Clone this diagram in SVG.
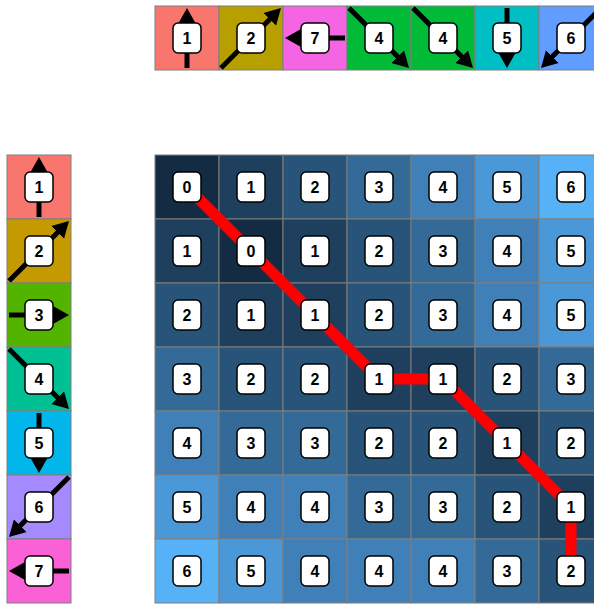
<svg xmlns="http://www.w3.org/2000/svg" width="594" height="604" viewBox="0 0 594 604">
<style>
.cell{stroke:#7f7f7f;stroke-width:1}
.box{fill:#fff;stroke:#000;stroke-width:1.5}
.lbl{font-family:"Liberation Sans",Arial,sans-serif;font-weight:bold;font-size:16px;fill:#000;text-anchor:middle}
.arr{stroke:#000;stroke-width:5;fill:none;marker-end:url(#ah)}
.path{stroke:#ff0000;stroke-width:11;fill:none;stroke-linejoin:round}
.v0{fill:#132B43}.v1{fill:#1E3F5E}.v2{fill:#28547A}.v3{fill:#336A98}.v4{fill:#3E80B7}.v5{fill:#4A98D7}.v6{fill:#56B1F7}
</style>
<defs>
<marker id="ah" markerUnits="userSpaceOnUse" markerWidth="18" markerHeight="20" viewBox="0 -10 18 20" refX="2" refY="0" orient="auto">
<path d="M0,-9 L16,0 L0,9 Z" fill="#000"/>
</marker>
</defs>
<rect width="594" height="604" fill="#fff"/>

<!-- top sequence -->
<g id="top">
<g id="t0"><rect class="cell" x="155" y="6" width="64" height="64" fill="#F8766D"/><line class="arr" x1="187" y1="68" x2="187" y2="22"/><rect class="box" x="173" y="23" width="28" height="30" rx="5"/><text class="lbl" x="187" y="44">1</text></g>
<g id="t1"><rect class="cell" x="219" y="6" width="64" height="64" fill="#B79F00"/><line class="arr" x1="221" y1="68" x2="271.1" y2="17.9"/><rect class="box" x="237" y="23" width="28" height="30" rx="5"/><text class="lbl" x="251" y="44">2</text></g>
<g id="t2"><rect class="cell" x="283" y="6" width="64" height="64" fill="#F564E3"/><line class="arr" x1="345" y1="38" x2="299" y2="38"/><rect class="box" x="301" y="23" width="28" height="30" rx="5"/><text class="lbl" x="315" y="44">7</text></g>
<g id="t3"><rect class="cell" x="347" y="6" width="64" height="64" fill="#00BA38"/><line class="arr" x1="349" y1="8" x2="399.1" y2="58.1"/><rect class="box" x="365" y="23" width="28" height="30" rx="5"/><text class="lbl" x="379" y="44">4</text></g>
<g id="t4"><rect class="cell" x="411" y="6" width="64" height="64" fill="#00BA38"/><line class="arr" x1="413" y1="8" x2="463.1" y2="58.1"/><rect class="box" x="429" y="23" width="28" height="30" rx="5"/><text class="lbl" x="443" y="44">4</text></g>
<g id="t5"><rect class="cell" x="475" y="6" width="64" height="64" fill="#00BFC4"/><line class="arr" x1="507" y1="8" x2="507" y2="54"/><rect class="box" x="493" y="23" width="28" height="30" rx="5"/><text class="lbl" x="507" y="44">5</text></g>
<g id="t6"><rect class="cell" x="539" y="6" width="64" height="64" fill="#619CFF"/><line class="arr" x1="601" y1="8" x2="550.9" y2="58.1"/><rect class="box" x="557" y="23" width="28" height="30" rx="5"/><text class="lbl" x="571" y="44">6</text></g>
</g>

<!-- left sequence -->
<g id="left">
<g id="l0"><rect class="cell" x="7" y="155" width="64" height="64" fill="#F8766D"/><line class="arr" x1="39" y1="217" x2="39" y2="171"/><rect class="box" x="25" y="172" width="28" height="30" rx="5"/><text class="lbl" x="39" y="193">1</text></g>
<g id="l1"><rect class="cell" x="7" y="219" width="64" height="64" fill="#C49A00"/><line class="arr" x1="9" y1="281" x2="59.1" y2="230.9"/><rect class="box" x="25" y="236" width="28" height="30" rx="5"/><text class="lbl" x="39" y="257">2</text></g>
<g id="l2"><rect class="cell" x="7" y="283" width="64" height="64" fill="#53B400"/><line class="arr" x1="9" y1="315" x2="55" y2="315"/><rect class="box" x="25" y="300" width="28" height="30" rx="5"/><text class="lbl" x="39" y="321">3</text></g>
<g id="l3"><rect class="cell" x="7" y="347" width="64" height="64" fill="#00C094"/><line class="arr" x1="9" y1="349" x2="59.1" y2="399.1"/><rect class="box" x="25" y="364" width="28" height="30" rx="5"/><text class="lbl" x="39" y="385">4</text></g>
<g id="l4"><rect class="cell" x="7" y="411" width="64" height="64" fill="#00B6EB"/><line class="arr" x1="39" y1="413" x2="39" y2="459"/><rect class="box" x="25" y="428" width="28" height="30" rx="5"/><text class="lbl" x="39" y="449">5</text></g>
<g id="l5"><rect class="cell" x="7" y="475" width="64" height="64" fill="#A58AFF"/><line class="arr" x1="69" y1="477" x2="18.9" y2="527.1"/><rect class="box" x="25" y="492" width="28" height="30" rx="5"/><text class="lbl" x="39" y="513">6</text></g>
<g id="l6"><rect class="cell" x="7" y="539" width="64" height="64" fill="#FB61D7"/><line class="arr" x1="69" y1="571" x2="23" y2="571"/><rect class="box" x="25" y="556" width="28" height="30" rx="5"/><text class="lbl" x="39" y="577">7</text></g>
</g>

<!-- grid backgrounds -->
<g id="grid">
<rect class="cell v0" x="155" y="155" width="64" height="64"/><rect class="cell v1" x="219" y="155" width="64" height="64"/><rect class="cell v2" x="283" y="155" width="64" height="64"/><rect class="cell v3" x="347" y="155" width="64" height="64"/><rect class="cell v4" x="411" y="155" width="64" height="64"/><rect class="cell v5" x="475" y="155" width="64" height="64"/><rect class="cell v6" x="539" y="155" width="64" height="64"/>
<rect class="cell v1" x="155" y="219" width="64" height="64"/><rect class="cell v0" x="219" y="219" width="64" height="64"/><rect class="cell v1" x="283" y="219" width="64" height="64"/><rect class="cell v2" x="347" y="219" width="64" height="64"/><rect class="cell v3" x="411" y="219" width="64" height="64"/><rect class="cell v4" x="475" y="219" width="64" height="64"/><rect class="cell v5" x="539" y="219" width="64" height="64"/>
<rect class="cell v2" x="155" y="283" width="64" height="64"/><rect class="cell v1" x="219" y="283" width="64" height="64"/><rect class="cell v1" x="283" y="283" width="64" height="64"/><rect class="cell v2" x="347" y="283" width="64" height="64"/><rect class="cell v3" x="411" y="283" width="64" height="64"/><rect class="cell v4" x="475" y="283" width="64" height="64"/><rect class="cell v5" x="539" y="283" width="64" height="64"/>
<rect class="cell v3" x="155" y="347" width="64" height="64"/><rect class="cell v2" x="219" y="347" width="64" height="64"/><rect class="cell v2" x="283" y="347" width="64" height="64"/><rect class="cell v1" x="347" y="347" width="64" height="64"/><rect class="cell v1" x="411" y="347" width="64" height="64"/><rect class="cell v2" x="475" y="347" width="64" height="64"/><rect class="cell v3" x="539" y="347" width="64" height="64"/>
<rect class="cell v4" x="155" y="411" width="64" height="64"/><rect class="cell v3" x="219" y="411" width="64" height="64"/><rect class="cell v3" x="283" y="411" width="64" height="64"/><rect class="cell v2" x="347" y="411" width="64" height="64"/><rect class="cell v2" x="411" y="411" width="64" height="64"/><rect class="cell v1" x="475" y="411" width="64" height="64"/><rect class="cell v2" x="539" y="411" width="64" height="64"/>
<rect class="cell v5" x="155" y="475" width="64" height="64"/><rect class="cell v4" x="219" y="475" width="64" height="64"/><rect class="cell v4" x="283" y="475" width="64" height="64"/><rect class="cell v3" x="347" y="475" width="64" height="64"/><rect class="cell v3" x="411" y="475" width="64" height="64"/><rect class="cell v2" x="475" y="475" width="64" height="64"/><rect class="cell v1" x="539" y="475" width="64" height="64"/>
<rect class="cell v6" x="155" y="539" width="64" height="64"/><rect class="cell v5" x="219" y="539" width="64" height="64"/><rect class="cell v4" x="283" y="539" width="64" height="64"/><rect class="cell v4" x="347" y="539" width="64" height="64"/><rect class="cell v4" x="411" y="539" width="64" height="64"/><rect class="cell v3" x="475" y="539" width="64" height="64"/><rect class="cell v2" x="539" y="539" width="64" height="64"/>
</g>

<!-- warping path -->
<g id="connectors">
<polyline class="path" points="187,187 251,251 315,315 379,379 443,379 507,443 571,507 571,571"/>
</g>

<!-- grid labels -->
<g id="labels">
<g id="c00"><rect class="box" x="173" y="172" width="28" height="30" rx="5"/><text class="lbl" x="187" y="193">0</text></g>
<g id="c01"><rect class="box" x="237" y="172" width="28" height="30" rx="5"/><text class="lbl" x="251" y="193">1</text></g>
<g id="c02"><rect class="box" x="301" y="172" width="28" height="30" rx="5"/><text class="lbl" x="315" y="193">2</text></g>
<g id="c03"><rect class="box" x="365" y="172" width="28" height="30" rx="5"/><text class="lbl" x="379" y="193">3</text></g>
<g id="c04"><rect class="box" x="429" y="172" width="28" height="30" rx="5"/><text class="lbl" x="443" y="193">4</text></g>
<g id="c05"><rect class="box" x="493" y="172" width="28" height="30" rx="5"/><text class="lbl" x="507" y="193">5</text></g>
<g id="c06"><rect class="box" x="557" y="172" width="28" height="30" rx="5"/><text class="lbl" x="571" y="193">6</text></g>

<g id="c10"><rect class="box" x="173" y="236" width="28" height="30" rx="5"/><text class="lbl" x="187" y="257">1</text></g>
<g id="c11"><rect class="box" x="237" y="236" width="28" height="30" rx="5"/><text class="lbl" x="251" y="257">0</text></g>
<g id="c12"><rect class="box" x="301" y="236" width="28" height="30" rx="5"/><text class="lbl" x="315" y="257">1</text></g>
<g id="c13"><rect class="box" x="365" y="236" width="28" height="30" rx="5"/><text class="lbl" x="379" y="257">2</text></g>
<g id="c14"><rect class="box" x="429" y="236" width="28" height="30" rx="5"/><text class="lbl" x="443" y="257">3</text></g>
<g id="c15"><rect class="box" x="493" y="236" width="28" height="30" rx="5"/><text class="lbl" x="507" y="257">4</text></g>
<g id="c16"><rect class="box" x="557" y="236" width="28" height="30" rx="5"/><text class="lbl" x="571" y="257">5</text></g>

<g id="c20"><rect class="box" x="173" y="300" width="28" height="30" rx="5"/><text class="lbl" x="187" y="321">2</text></g>
<g id="c21"><rect class="box" x="237" y="300" width="28" height="30" rx="5"/><text class="lbl" x="251" y="321">1</text></g>
<g id="c22"><rect class="box" x="301" y="300" width="28" height="30" rx="5"/><text class="lbl" x="315" y="321">1</text></g>
<g id="c23"><rect class="box" x="365" y="300" width="28" height="30" rx="5"/><text class="lbl" x="379" y="321">2</text></g>
<g id="c24"><rect class="box" x="429" y="300" width="28" height="30" rx="5"/><text class="lbl" x="443" y="321">3</text></g>
<g id="c25"><rect class="box" x="493" y="300" width="28" height="30" rx="5"/><text class="lbl" x="507" y="321">4</text></g>
<g id="c26"><rect class="box" x="557" y="300" width="28" height="30" rx="5"/><text class="lbl" x="571" y="321">5</text></g>

<g id="c30"><rect class="box" x="173" y="364" width="28" height="30" rx="5"/><text class="lbl" x="187" y="385">3</text></g>
<g id="c31"><rect class="box" x="237" y="364" width="28" height="30" rx="5"/><text class="lbl" x="251" y="385">2</text></g>
<g id="c32"><rect class="box" x="301" y="364" width="28" height="30" rx="5"/><text class="lbl" x="315" y="385">2</text></g>
<g id="c33"><rect class="box" x="365" y="364" width="28" height="30" rx="5"/><text class="lbl" x="379" y="385">1</text></g>
<g id="c34"><rect class="box" x="429" y="364" width="28" height="30" rx="5"/><text class="lbl" x="443" y="385">1</text></g>
<g id="c35"><rect class="box" x="493" y="364" width="28" height="30" rx="5"/><text class="lbl" x="507" y="385">2</text></g>
<g id="c36"><rect class="box" x="557" y="364" width="28" height="30" rx="5"/><text class="lbl" x="571" y="385">3</text></g>

<g id="c40"><rect class="box" x="173" y="428" width="28" height="30" rx="5"/><text class="lbl" x="187" y="449">4</text></g>
<g id="c41"><rect class="box" x="237" y="428" width="28" height="30" rx="5"/><text class="lbl" x="251" y="449">3</text></g>
<g id="c42"><rect class="box" x="301" y="428" width="28" height="30" rx="5"/><text class="lbl" x="315" y="449">3</text></g>
<g id="c43"><rect class="box" x="365" y="428" width="28" height="30" rx="5"/><text class="lbl" x="379" y="449">2</text></g>
<g id="c44"><rect class="box" x="429" y="428" width="28" height="30" rx="5"/><text class="lbl" x="443" y="449">2</text></g>
<g id="c45"><rect class="box" x="493" y="428" width="28" height="30" rx="5"/><text class="lbl" x="507" y="449">1</text></g>
<g id="c46"><rect class="box" x="557" y="428" width="28" height="30" rx="5"/><text class="lbl" x="571" y="449">2</text></g>

<g id="c50"><rect class="box" x="173" y="492" width="28" height="30" rx="5"/><text class="lbl" x="187" y="513">5</text></g>
<g id="c51"><rect class="box" x="237" y="492" width="28" height="30" rx="5"/><text class="lbl" x="251" y="513">4</text></g>
<g id="c52"><rect class="box" x="301" y="492" width="28" height="30" rx="5"/><text class="lbl" x="315" y="513">4</text></g>
<g id="c53"><rect class="box" x="365" y="492" width="28" height="30" rx="5"/><text class="lbl" x="379" y="513">3</text></g>
<g id="c54"><rect class="box" x="429" y="492" width="28" height="30" rx="5"/><text class="lbl" x="443" y="513">3</text></g>
<g id="c55"><rect class="box" x="493" y="492" width="28" height="30" rx="5"/><text class="lbl" x="507" y="513">2</text></g>
<g id="c56"><rect class="box" x="557" y="492" width="28" height="30" rx="5"/><text class="lbl" x="571" y="513">1</text></g>

<g id="c60"><rect class="box" x="173" y="556" width="28" height="30" rx="5"/><text class="lbl" x="187" y="577">6</text></g>
<g id="c61"><rect class="box" x="237" y="556" width="28" height="30" rx="5"/><text class="lbl" x="251" y="577">5</text></g>
<g id="c62"><rect class="box" x="301" y="556" width="28" height="30" rx="5"/><text class="lbl" x="315" y="577">4</text></g>
<g id="c63"><rect class="box" x="365" y="556" width="28" height="30" rx="5"/><text class="lbl" x="379" y="577">4</text></g>
<g id="c64"><rect class="box" x="429" y="556" width="28" height="30" rx="5"/><text class="lbl" x="443" y="577">4</text></g>
<g id="c65"><rect class="box" x="493" y="556" width="28" height="30" rx="5"/><text class="lbl" x="507" y="577">3</text></g>
<g id="c66"><rect class="box" x="557" y="556" width="28" height="30" rx="5"/><text class="lbl" x="571" y="577">2</text></g>
</g>
</svg>
